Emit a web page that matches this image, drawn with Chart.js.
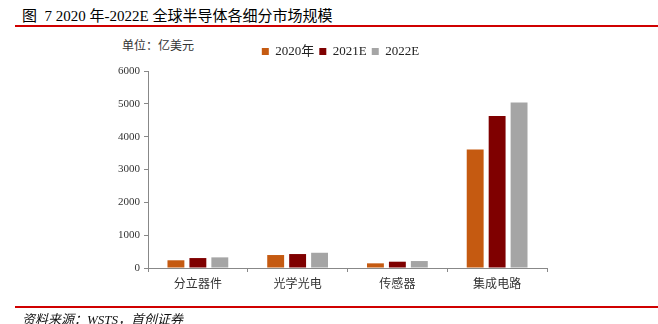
<!DOCTYPE html>
<html>
<head>
<meta charset="utf-8">
<script src="https://cdn.jsdelivr.net/npm/chart.js@4"></script>
<style>
  body { margin: 0; width: 658px; height: 324px; background: #fff; position: relative; overflow: hidden; }
  .title { position: absolute; left: 22px; top: 4px; font: 15px 'Liberation Serif', 'Noto Sans CJK SC'; color: #000; white-space: nowrap; }
  .rule { position: absolute; left: 15px; right: 0; height: 2px; background: #d00000; }
  .unit { position: absolute; left: 122px; top: 36px; font: 12px 'Noto Sans CJK SC'; color: #333; }
  .source { position: absolute; left: 22px; top: 309px; font: italic 13px 'Liberation Serif', 'Noto Sans CJK SC'; color: #111; white-space: nowrap; }
  #wrap { position: absolute; left: 0; top: 0; width: 658px; height: 324px; }
</style>
</head>
<body>
<div class="title">图&nbsp; 7 2020 年-2022E 全球半导体各细分市场规模</div>
<div class="rule" style="top:25px"></div>
<div class="unit">单位：亿美元</div>
<div id="wrap"><canvas id="chart"></canvas></div>
<div class="rule" style="top:306px"></div>
<div class="source">资料来源：WSTS，首创证券</div>

<script>
// 数据（亿美元）
const categories = ['分立器件', '光学光电', '传感器', '集成电路'];
const seriesNames = ['2020年', '2021E', '2022E'];
const values2020 = [235, 395, 142, 3612];
const values2021E = [303, 425, 192, 4631];
const values2022E = [324, 464, 212, 5040];
const yTicks = [0, 1000, 2000, 3000, 4000, 5000, 6000];

const colors = ['#c55a11', '#7f0000', '#a5a5a5'];

// 图例下方多留一点空间，并把图例往右挪一点（原图图例偏右）
const legendTweak = {
    id: 'legendTweak',
    beforeInit(chart) {
        const fit = chart.legend.fit;
        chart.legend.fit = function () {
            fit.bind(chart.legend)();
            this.height += 3;
        };
    },
    afterLayout(chart) {
        chart.legend.left += 34;
    }
};

const ctx = document.getElementById('chart').getContext('2d');
new Chart(ctx, {
    type: 'bar',
    data: {
        labels: categories,
        datasets: [values2020, values2021E, values2022E].map((vals, i) => ({
            label: seriesNames[i],
            data: vals,
            backgroundColor: colors[i],
            borderWidth: 0,
            categoryPercentage: 0.66,
            barPercentage: 0.77
        }))
    },
    options: {
        responsive: true,
        maintainAspectRatio: false,
        animation: false,
        layout: { padding: { left: 100, right: 111, top: 40, bottom: 26 } },
        scales: {
            x: {
                grid: { offset: true, drawOnChartArea: false, drawTicks: true, tickLength: 4, color: '#888' },
                border: { color: '#888', width: 1 },
                ticks: { color: '#333', padding: 4, font: { family: "'Noto Sans CJK SC'", size: 12 } },
                afterFit: scale => { scale.height = 30; }
            },
            y: {
                min: 0,
                max: 6000,
                afterBuildTicks: scale => { scale.ticks = yTicks.map(v => ({ value: v })); },
                grid: { drawOnChartArea: false, drawTicks: true, tickLength: 4, color: '#888' },
                border: { color: '#888', width: 1 },
                ticks: {
                    color: '#333',
                    padding: 4,
                    font: { family: "'Liberation Serif'", size: 11 },
                    callback: value => String(value)
                },
                afterFit: scale => { scale.width = 48; }
            }
        },
        plugins: {
            legend: {
                position: 'top',
                labels: {
                    boxWidth: 7,
                    boxHeight: 7,
                    padding: 5,
                    color: '#222',
                    font: { family: "'Liberation Serif', 'Noto Sans CJK SC'", size: 13 }
                }
            },
            tooltip: { enabled: false }
        }
    },
    plugins: [legendTweak]
});
</script>
</body>
</html>
